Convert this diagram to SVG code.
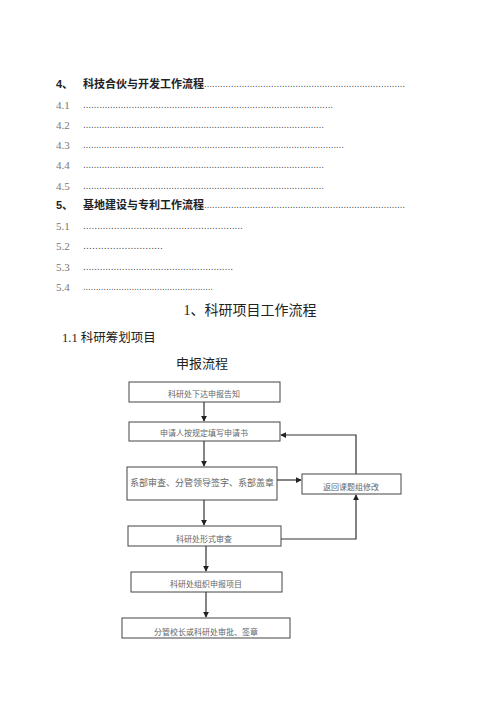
<svg xmlns="http://www.w3.org/2000/svg" width="500" height="707" viewBox="0 0 500 707">
<defs>
<marker id="ah" viewBox="0 0 8 8" refX="7" refY="4" markerWidth="5" markerHeight="5" orient="auto"><path d="M0,0 L8,4 L0,8 z" fill="#222"/></marker>
<style>
.h{font-family:"Liberation Sans","Noto Sans CJK SC",sans-serif;font-size:11px;font-weight:bold;fill:#222}
.n{font-family:"Liberation Serif","Noto Sans CJK SC",serif;font-size:11px;fill:#777}
.d{font-family:"Liberation Serif",serif;font-size:11px;fill:#333}
.t{font-family:"Liberation Serif","Noto Sans CJK SC",serif;fill:#222}
.box{fill:#fff;stroke:#444;stroke-width:1}
.bt{font-family:"Noto Sans CJK SC",sans-serif;font-size:8px;fill:#666;text-anchor:middle}
.c{fill:none;stroke:#333;stroke-width:1.2}
</style>
</defs>
<rect width="500" height="707" fill="#fff"/>
<g id="toc">
<text class="h" x="56" y="88">4、</text>
<text class="h" x="83" y="88">科技合伙与开发工作流程</text>
<text class="d" x="196" y="87" textLength="209" lengthAdjust="spacingAndGlyphs">……………………………………………………………………</text>
<text class="n" x="56" y="109">4.1</text>
<text class="d" x="83" y="108" textLength="250" lengthAdjust="spacingAndGlyphs">…………………………………………………………………………………</text>
<text class="n" x="56" y="129">4.2</text>
<text class="d" x="83" y="128" textLength="241" lengthAdjust="spacingAndGlyphs">………………………………………………………………………………</text>
<text class="n" x="56" y="149">4.3</text>
<text class="d" x="83" y="148" textLength="261" lengthAdjust="spacingAndGlyphs">………………………………………………………………………………………</text>
<text class="n" x="56" y="169">4.4</text>
<text class="d" x="83" y="168" textLength="241" lengthAdjust="spacingAndGlyphs">………………………………………………………………………………</text>
<text class="n" x="56" y="190">4.5</text>
<text class="d" x="83" y="189" textLength="241" lengthAdjust="spacingAndGlyphs">………………………………………………………………………………</text>
<text class="h" x="56" y="209">5、</text>
<text class="h" x="83" y="209">基地建设与专利工作流程</text>
<text class="d" x="196" y="208" textLength="209" lengthAdjust="spacingAndGlyphs">……………………………………………………………………</text>
<text class="n" x="56" y="230">5.1</text>
<text class="d" x="83" y="229" textLength="160" lengthAdjust="spacingAndGlyphs">…………………………………………………</text>
<text class="n" x="56" y="250">5.2</text>
<text class="d" x="83" y="249" textLength="80" lengthAdjust="spacingAndGlyphs">………………………</text>
<text class="n" x="56" y="271">5.3</text>
<text class="d" x="83" y="270" textLength="150" lengthAdjust="spacingAndGlyphs">………………………………………………</text>
<text class="n" x="56" y="291">5.4</text>
<text class="d" x="83" y="290" textLength="130" lengthAdjust="spacingAndGlyphs">……………………………………………</text>
</g>
<g id="titles">
<text class="t" x="250" y="315" font-size="14" text-anchor="middle">1、科研项目工作流程</text>
<text class="t" x="62" y="342" font-size="12.5">1.1 科研筹划项目</text>
<text class="t" x="202" y="368" font-size="13" text-anchor="middle">申报流程</text>
</g>
<g id="connectors">
<line class="c" x1="204" y1="402" x2="204" y2="421" marker-end="url(#ah)"/>
<line class="c" x1="204" y1="441" x2="204" y2="466" marker-end="url(#ah)"/>
<line class="c" x1="204" y1="500" x2="204" y2="525" marker-end="url(#ah)"/>
<line class="c" x1="206" y1="546" x2="206" y2="571" marker-end="url(#ah)"/>
<line class="c" x1="206" y1="592" x2="206" y2="617" marker-end="url(#ah)"/>
<line class="c" x1="277" y1="480" x2="301" y2="480" marker-end="url(#ah)"/>
<polyline class="c" points="356,474 356,435 281,435" marker-end="url(#ah)"/>
<polyline class="c" points="281,539 356,539 356,495" marker-end="url(#ah)"/>
</g>
<g id="n1"><rect class="box" x="129" y="382" width="151" height="20"/><text class="bt" x="204" y="397">科研处下达申报告知</text></g>
<g id="n2"><rect class="box" x="129" y="422" width="151" height="19"/><text class="bt" x="204" y="436">申请人按规定填写申请书</text></g>
<g id="n3"><rect class="box" x="127" y="467" width="150" height="33"/><text class="bt" x="202" y="486" style="font-size:9px">系部审查、分管领导签字、系部盖章</text></g>
<g id="n4"><rect class="box" x="302" y="474" width="99" height="20"/><text class="bt" x="351" y="490">返回课题组修改</text></g>
<g id="n5"><rect class="box" x="128" y="526" width="153" height="20"/><text class="bt" x="204" y="542">科研处形式审查</text></g>
<g id="n6"><rect class="box" x="131" y="572" width="151" height="20"/><text class="bt" x="206" y="587">科研处组织申报项目</text></g>
<g id="n7"><rect class="box" x="122" y="618" width="168" height="20"/><text class="bt" x="206" y="635">分管校长或科研处审批、签章</text></g>
</svg>
